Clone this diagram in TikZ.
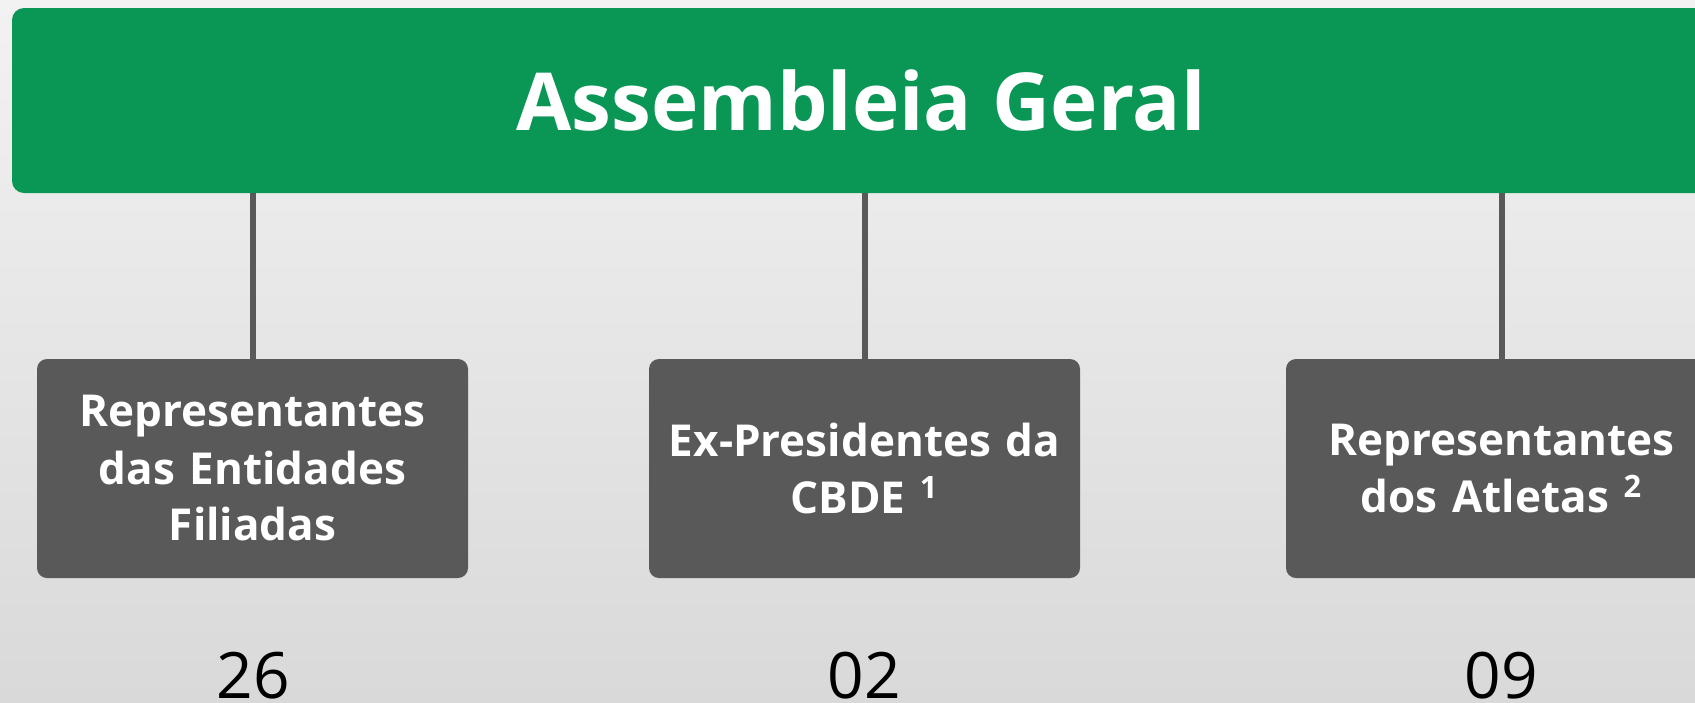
\documentclass[tikz,border=0pt]{standalone}
\usepackage{fontspec}
\setmainfont{Open Sans}
\definecolor{bargreen}{HTML}{0A9654}
\definecolor{boxgray}{HTML}{595959}
\definecolor{bgtop}{HTML}{F2F2F2}
\definecolor{bgbottom}{HTML}{D9D9D9}

\begin{document}
\begin{tikzpicture}[x=0.5pt, y=-0.5pt,
            greenbarnode/.style={rectangle, rounded corners=6pt, fill=bargreen, inner sep=0pt,
                minimum width=849pt, minimum height=92.5pt, text=white,
                font=\fontsize{40pt}{48pt}\selectfont\bfseries},
            graysquarednode/.style={rectangle, rounded corners=5pt, fill=boxgray, inner sep=0pt,
                minimum width=215.5pt, minimum height=109.5pt, text width=215.5pt, align=center,
                text=white, font=\fontsize{22pt}{28.5pt}\selectfont\bfseries},
            countnode/.style={anchor=base, inner sep=0pt, font=\fontsize{32pt}{38pt}\selectfont},
            connector/.style={draw=boxgray, line width=3pt},
            ]
            \useasboundingbox (0,0) rectangle (1695,702);
            \clip (0,0) rectangle (1695,702);
            \shade[top color=bgtop, bottom color=bgbottom] (0,0) rectangle (1695,702);
            % top bar
            \node[greenbarnode] (assembly) at (861,100.5) {Assembleia Geral};
            % member groups
            \node[graysquarednode] (entities) at (252.5,468.5) {Representantes\\das Entidades\\Filiadas};
            \node[graysquarednode] (former) at (864.5,468.5) {Ex-Presidentes da\\CBDE \textsuperscript{1}};
            \node[graysquarednode] (athletes) at (1501.5,468.5) {Representantes\\dos Atletas \textsuperscript{2}};
            % connectors
            \draw[connector] (assembly.south -| entities.north) -- (entities.north);
            \draw[connector] (assembly.south -| former.north) -- (former.north);
            \draw[connector] (assembly.south -| athletes.north) -- (athletes.north);
            % counts
            \node[countnode] (nentities) at (253,698) {26};
            \node[countnode] (nformer) at (864.5,698) {02};
            \node[countnode] (nathletes) at (1501.5,698) {09};
        \end{tikzpicture}
\end{document}
